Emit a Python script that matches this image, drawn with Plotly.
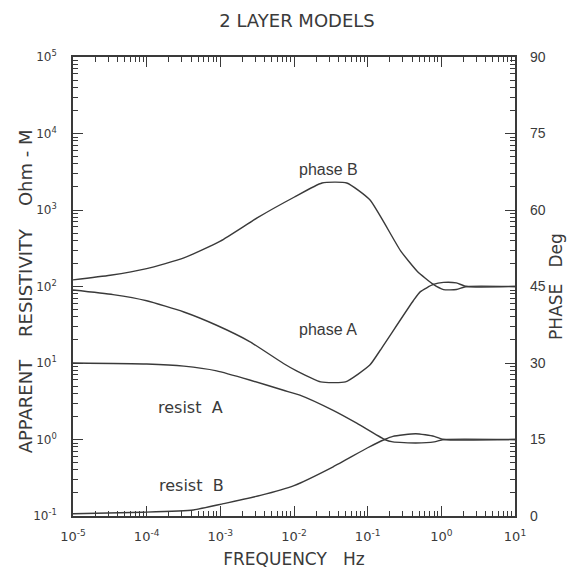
import math
import plotly.graph_objects as go

# ---- data ----
phaseB_freq = [1e-5, 3.2e-5, 1e-4, 3.2e-4, 1e-3, 3.2e-3, 1e-2, 0.024, 0.052, 0.107, 0.28, 0.47, 0.78, 1.07, 1.6, 2.2, 10]
phaseB_deg = [46.3, 47.2, 48.5, 50.6, 53.9, 58.5, 62.5, 65.3, 65.3, 62.0, 52.0, 48.0, 45.4, 44.4, 44.4, 45.0, 45.0]

phaseA_freq = [1e-5, 3.5e-5, 1e-4, 3.2e-4, 8.9e-4, 2.5e-3, 7.2e-3, 0.011, 0.023, 0.050, 0.107, 0.148, 0.42, 0.52, 0.78, 1.07, 1.6, 2.2, 10]
phaseA_deg = [44.3, 43.4, 42.2, 40.0, 37.4, 34.2, 29.9, 28.4, 26.3, 26.3, 29.6, 32.5, 42.3, 44.0, 45.4, 45.8, 45.7, 45.0, 45.0]

resistA_freq = [1e-5, 1e-4, 3.2e-4, 8.9e-4, 2.5e-3, 7.2e-3, 0.012, 0.034, 0.072, 0.17, 0.22, 0.45, 0.8, 1.07, 10]
resistA_ohm = [10, 9.7, 9.1, 7.9, 6.0, 4.4, 3.8, 2.4, 1.62, 1.0, 0.93, 0.90, 0.93, 1.0, 1.0]

resistB_freq = [1e-5, 8.9e-5, 4.3e-4, 1.1e-3, 3.5e-3, 1e-2, 0.034, 0.1, 0.17, 0.22, 0.45, 0.8, 1.07, 10]
resistB_ohm = [0.107, 0.112, 0.12, 0.145, 0.186, 0.25, 0.44, 0.78, 1.0, 1.1, 1.19, 1.1, 1.0, 1.0]

freq_exponents = [-5, -4, -3, -2, -1, 0, 1]
res_exponents = [-1, 0, 1, 2, 3, 4, 5]
phase_ticks = [0, 15, 30, 45, 60, 75, 90]

# curve labels: (text, frequency Hz, value)
phase_labels = [("phase B", 0.029, 68.0), ("phase A", 0.029, 36.5)]
resist_labels = [("resist A", 3.9e-4, 2.66), ("resist B", 4.1e-4, 0.25)]

INK = "#3a3a3a"
FONT = "DejaVu Sans"
NB = "\u00a0"

fig = go.Figure()
line = dict(color=INK, width=1.4, shape="spline", smoothing=0.5)
fig.add_trace(go.Scatter(x=resistA_freq, y=resistA_ohm, mode="lines", line=line, yaxis="y"))
fig.add_trace(go.Scatter(x=resistB_freq, y=resistB_ohm, mode="lines", line=line, yaxis="y"))
fig.add_trace(go.Scatter(x=phaseA_freq, y=phaseA_deg, mode="lines", line=line, yaxis="y2"))
fig.add_trace(go.Scatter(x=phaseB_freq, y=phaseB_deg, mode="lines", line=line, yaxis="y2"))

for txt, fx, deg in phase_labels:
    fig.add_annotation(x=math.log10(fx), y=deg, xref="x", yref="y2", text=txt, showarrow=False,
                       font=dict(family="Liberation Sans", size=16, color=INK))
for txt, fx, val in resist_labels:
    fig.add_annotation(x=math.log10(fx), y=math.log10(val), xref="x", yref="y",
                       text=txt.replace(" ", NB * 2),
                       showarrow=False, font=dict(family=FONT, size=16, color=INK))

# left axis title, placed as rotated text
fig.add_annotation(x=-0.108, y=0.49, xref="paper", yref="paper", xanchor="center", yanchor="middle",
                   textangle=-90, showarrow=False,
                   text="APPARENT" + NB * 4 + "RESISTIVITY" + NB * 4 + "Ohm" + NB + "-" + NB + "M",
                   font=dict(family=FONT, size=18, color=INK))

def sup(e):
    return "10<sup>%d</sup>" % e

minor_x = [m * 10.0 ** e for e in freq_exponents[:-1] for m in range(2, 10)]
minor_y = [m * 10.0 ** e for e in res_exponents[:-1] for m in range(2, 10)]

# the page body adds an 8 px offset; figure is sized to fit inside the window
W, H = 563, 561
fig.update_layout(
    width=W, height=H,
    margin=dict(l=65, r=56, t=49, b=53),
    paper_bgcolor="white", plot_bgcolor="white",
    showlegend=False,
    title=dict(text="2 LAYER MODELS", x=289 / W, xanchor="center", y=1 - 13 / H, yanchor="middle",
               font=dict(family=FONT, size=18, color=INK)),
    xaxis=dict(
        type="log", range=[-5, 1], automargin=False,
        tickmode="array", tickvals=[10.0 ** e for e in freq_exponents],
        ticktext=[sup(e) for e in freq_exponents],
        ticks="inside", ticklen=10, tickwidth=1.2, tickcolor=INK,
        showline=True, linecolor=INK, linewidth=1.6, mirror="ticks",
        showgrid=False, zeroline=False, ticklabelstandoff=8,
        minor=dict(tickmode="array", tickvals=minor_x, ticks="inside", ticklen=5,
                   tickwidth=1, tickcolor=INK, showgrid=False),
        tickfont=dict(family=FONT, size=13, color=INK),
        title=dict(text="FREQUENCY" + NB * 3 + "Hz", font=dict(family=FONT, size=17, color=INK), standoff=12),
    ),
    yaxis=dict(
        type="log", range=[-1, 5], automargin=False,
        tickmode="array", tickvals=[10.0 ** e for e in res_exponents],
        ticktext=[sup(e) for e in res_exponents],
        ticks="inside", ticklen=10, tickwidth=1.2, tickcolor=INK,
        showline=True, linecolor=INK, linewidth=1.6, mirror="ticks",
        showgrid=False, zeroline=False, ticklabelstandoff=12,
        minor=dict(tickmode="array", tickvals=minor_y, ticks="inside", ticklen=5,
                   tickwidth=1, tickcolor=INK, showgrid=False),
        tickfont=dict(family=FONT, size=12, color=INK),
    ),
    yaxis2=dict(
        overlaying="y", side="right", range=[0, 90], automargin=False,
        tickmode="array", tickvals=phase_ticks,
        ticks="", showline=False, showgrid=False, zeroline=False, ticklabelstandoff=14,
        tickfont=dict(family="Liberation Sans", size=14, color=INK),
        title=dict(text="PHASE" + NB * 3 + "Deg", font=dict(family=FONT, size=17, color=INK), standoff=4),
    ),
)

fig.write_html("out.html")
